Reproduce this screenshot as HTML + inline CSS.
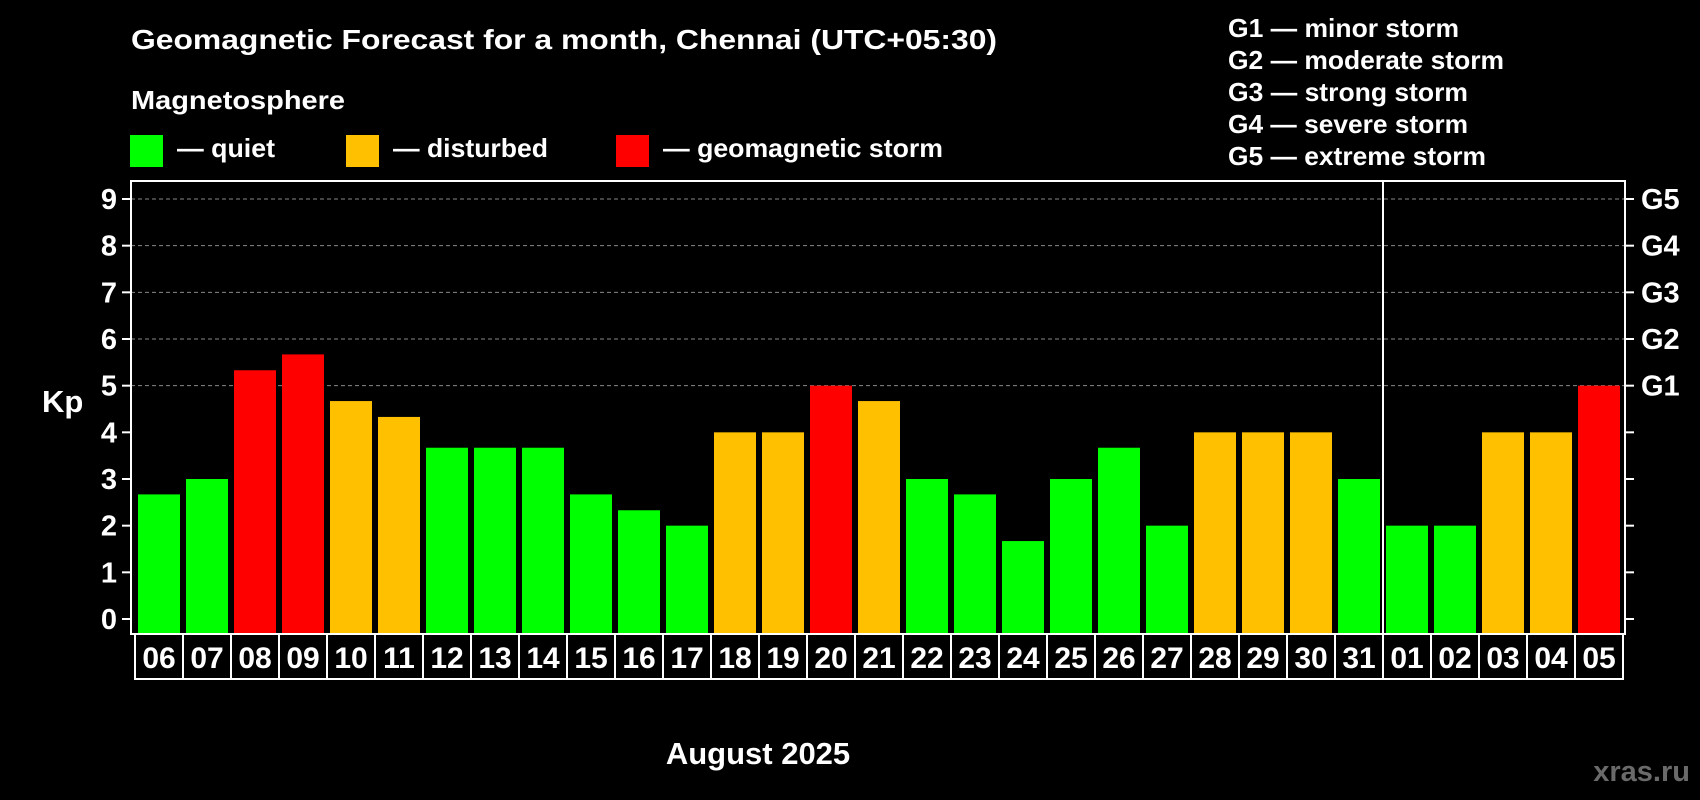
<!DOCTYPE html>
<html><head><meta charset="utf-8"><style>
html,body{margin:0;padding:0;background:#000;}
svg{display:block;font-family:"Liberation Sans",Arial,sans-serif;font-weight:bold;}
</style></head><body>
<svg id="chart" width="1700" height="800" viewBox="0 0 1700 800" xmlns="http://www.w3.org/2000/svg">
<rect width="1700" height="800" fill="#000"/>
<text x="131" y="49" fill="#fff" font-size="28" textLength="866" lengthAdjust="spacingAndGlyphs">Geomagnetic Forecast for a month, Chennai (UTC+05:30)</text>
<text x="131" y="109" fill="#fff" font-size="26" textLength="214" lengthAdjust="spacingAndGlyphs">Magnetosphere</text>
<g><rect x="130" y="135" width="33" height="32" fill="#00ff00"/><text x="177" y="157" fill="#fff" font-size="26" textLength="98" lengthAdjust="spacingAndGlyphs">— quiet</text></g>
<g><rect x="346" y="135" width="33" height="32" fill="#ffc000"/><text x="393" y="157" fill="#fff" font-size="26" textLength="155" lengthAdjust="spacingAndGlyphs">— disturbed</text></g>
<g><rect x="616" y="135" width="33" height="32" fill="#ff0000"/><text x="663" y="157" fill="#fff" font-size="26" textLength="280" lengthAdjust="spacingAndGlyphs">— geomagnetic storm</text></g>
<g fill="#fff" font-size="26">
<text x="1228" y="37" textLength="231" lengthAdjust="spacingAndGlyphs">G1 — minor storm</text>
<text x="1228" y="69" textLength="276" lengthAdjust="spacingAndGlyphs">G2 — moderate storm</text>
<text x="1228" y="101" textLength="240" lengthAdjust="spacingAndGlyphs">G3 — strong storm</text>
<text x="1228" y="133" textLength="240" lengthAdjust="spacingAndGlyphs">G4 — severe storm</text>
<text x="1228" y="165" textLength="258" lengthAdjust="spacingAndGlyphs">G5 — extreme storm</text>
</g>
<text x="42" y="412" fill="#fff" font-size="31">Kp</text>
<text x="758" y="764" fill="#fff" font-size="31" text-anchor="middle">August 2025</text>
<text x="1690" y="781" fill="#6a6a6a" font-size="29" text-anchor="end">xras.ru</text>
<g id="grid"></g>
<g id="bars"></g>
<g id="axes"></g>
<g id="days"></g>
</svg>
<script>
const dayLabels = ["06","07","08","09","10","11","12","13","14","15","16","17","18","19","20","21","22","23","24","25","26","27","28","29","30","31","01","02","03","04","05"];
const kpValues = [2.67,3,5.33,5.67,4.67,4.33,3.67,3.67,3.67,2.67,2.33,2,4,4,5,4.67,3,2.67,1.67,3,3.67,2,4,4,4,3,2,2,4,4,5];
const yTicks = [0,1,2,3,4,5,6,7,8,9];
const gLabels = ["","","","","","G1","G2","G3","G4","G5"];
const monthBreakIndex = 26;

const NS = "http://www.w3.org/2000/svg";
const L = 131, R = 1625, T = 181, B = 634;
const y0 = 619, unit = (619 - 199) / 9;
const pitch = 48, barW = 42, barStart = 138;
function yScale(v){ return y0 - v * unit; }
function xScale(i){ return barStart + i * pitch; }
function mk(tag, attrs, parent){ const e = document.createElementNS(NS, tag); for (const k in attrs) e.setAttribute(k, attrs[k]); parent.appendChild(e); return e; }
function colorFor(v){ return v >= 5 ? "#ff0000" : (v >= 4 ? "#ffc000" : "#00ff00"); }

const grid = document.getElementById("grid"), bars = document.getElementById("bars"), axes = document.getElementById("axes"), days = document.getElementById("days");

yTicks.forEach((t, i) => {
  const y = yScale(t);
  if (t >= 5) {
    const g = mk("line", {x1: L, x2: R, y1: y, y2: y, stroke: "#888", "stroke-width": 1, "stroke-dasharray": "4,3"}, grid);
    
    
  }
  const tl = mk("line", {x1: L - 9, x2: L, y1: y, y2: y, stroke: "#fff", "stroke-width": 2}, axes);
  
  
  const tr = mk("line", {x1: R, x2: R + 9, y1: y, y2: y, stroke: "#fff", "stroke-width": 2}, axes);
  
  
  const lab = mk("text", {x: 117, y: y + 10, fill: "#fff", "font-size": 29, "text-anchor": "end"}, axes);
  lab.textContent = String(t);
  
  
  if (gLabels[i]) {
    const gl = mk("text", {x: 1641, y: y + 10, fill: "#fff", "font-size": 29}, axes);
    gl.textContent = gLabels[i];
    
    
  }
});

kpValues.forEach((v, i) => {
  const b = mk("rect", {x: xScale(i), y: yScale(v), width: barW, height: B - yScale(v), fill: colorFor(v)}, bars);
  
  
});

const frame = mk("rect", {x: L, y: T, width: R - L, height: B - T, fill: "none", stroke: "#fff", "stroke-width": 2}, axes);


const divX = xScale(monthBreakIndex) - 3;
const div = mk("line", {x1: divX, x2: divX, y1: T, y2: B, stroke: "#fff", "stroke-width": 2}, axes);



const boxL = 135;
const box = mk("rect", {x: boxL, y: B, width: dayLabels.length * pitch, height: 45, fill: "none", stroke: "#fff", "stroke-width": 2}, days);


dayLabels.forEach((d, i) => {
  if (i > 0) {
    const s = mk("line", {x1: boxL + i * pitch, x2: boxL + i * pitch, y1: B, y2: B + 45, stroke: "#fff", "stroke-width": 2}, days);
    
    
  }
  const t = mk("text", {x: xScale(i) + barW / 2, y: 668, fill: "#fff", "font-size": 30, "text-anchor": "middle"}, days);
  t.textContent = d;
  
  
});
</script>
</body></html>
